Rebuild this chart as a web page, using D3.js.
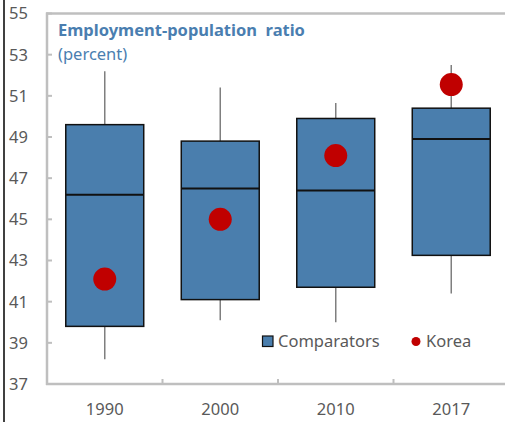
<!DOCTYPE html>
<html><head><meta charset="utf-8">
<script src="https://cdn.jsdelivr.net/npm/d3@7"></script>
<style>body{margin:0;background:#fff}svg{display:block}text{font-family:"Noto Sans","Open Sans",sans-serif}</style>
</head><body>
<svg id="c" width="505" height="422"></svg>
<script>
const categories = ["1990", "2000", "2010", "2017"];
const whiskerLow  = [38.2, 40.1, 40.0, 41.4];
const boxLow      = [39.8, 41.1, 41.7, 43.25];
const medians     = [46.2, 46.5, 46.4, 48.9];
const boxHigh     = [49.6, 48.8, 49.9, 50.4];
const whiskerHigh = [52.2, 51.4, 50.65, 52.5];
const korea       = [42.1, 45.0, 48.1, 51.55];
const yTicks      = [37, 39, 41, 43, 45, 47, 49, 51, 53, 55];

const svg = d3.select("#c");
const x = d3.scaleBand().domain(categories).range([47, 509]).paddingInner(0.325).paddingOuter(0.1625);
const y = d3.scaleLinear().domain([37, 55]).range([384, 13.5]);
const axisCol = "#bfbfbf", txtCol = "#595959";

// left black frame line
svg.append("line").attr("x1", 4).attr("x2", 4).attr("y1", 0).attr("y2", 422).attr("stroke", "#000").attr("stroke-width", 1.5);

// y tick labels
svg.append("g").selectAll("text").data(yTicks).join("text")
  .attr("x", 28).attr("y", d => y(d)).attr("dy", "0.36em").attr("text-anchor", "end")
  .attr("fill", txtCol).attr("font-size", 16.5).text(d => d);
// y ticks (inward)
svg.append("g").selectAll("line").data(yTicks).join("line")
  .attr("x1", 47).attr("x2", 52).attr("y1", d => y(d)).attr("y2", d => y(d))
  .attr("stroke", axisCol).attr("stroke-width", 2);

// axes lines
svg.append("line").attr("x1", 47).attr("x2", 47).attr("y1", y(55) - 1).attr("y2", y(37) + 1).attr("stroke", axisCol).attr("stroke-width", 2.5);
svg.append("line").attr("x1", 46).attr("x2", 505).attr("y1", y(55)).attr("y2", y(55)).attr("stroke", axisCol).attr("stroke-width", 2.5);
svg.append("line").attr("x1", 46).attr("x2", 505).attr("y1", y(37)).attr("y2", y(37)).attr("stroke", axisCol).attr("stroke-width", 2.5);
// x ticks between categories
svg.append("g").selectAll("line").data(categories.slice(1)).join("line")
  .attr("x1", d => x(d) - x.step() * x.paddingInner() / 2).attr("x2", d => x(d) - x.step() * x.paddingInner() / 2)
  .attr("y1", y(37)).attr("y2", y(37) - 5).attr("stroke", axisCol).attr("stroke-width", 2);
// x labels
svg.append("g").selectAll("text").data(categories).join("text")
  .attr("x", d => x(d) + x.bandwidth() / 2).attr("y", 415).attr("text-anchor", "middle")
  .attr("fill", txtCol).attr("font-size", 16.5).text(d => d);

// whiskers, boxes, medians
const cx = i => x(categories[i]) + x.bandwidth() / 2;
const g = svg.append("g");
categories.forEach((c, i) => {
  g.append("line").attr("x1", cx(i)).attr("x2", cx(i)).attr("y1", y(whiskerHigh[i])).attr("y2", y(boxHigh[i]))
    .attr("stroke", "#7f7f7f").attr("stroke-width", 1.5);
  g.append("line").attr("x1", cx(i)).attr("x2", cx(i)).attr("y1", y(boxLow[i])).attr("y2", y(whiskerLow[i]))
    .attr("stroke", "#7f7f7f").attr("stroke-width", 1.5);
  g.append("rect").attr("x", x(c)).attr("width", x.bandwidth())
    .attr("y", y(boxHigh[i])).attr("height", y(boxLow[i]) - y(boxHigh[i]))
    .attr("fill", "#4a7ead").attr("stroke", "#111").attr("stroke-width", 1.5);
  g.append("line").attr("x1", x(c)).attr("x2", x(c) + x.bandwidth()).attr("y1", y(medians[i])).attr("y2", y(medians[i]))
    .attr("stroke", "#111").attr("stroke-width", 2);
});
// Korea dots
svg.append("g").selectAll("circle").data(korea).join("circle")
  .attr("cx", (d, i) => cx(i)).attr("cy", d => y(d)).attr("r", 11.5).attr("fill", "#c00000");

// title
svg.append("text").attr("x", 58).attr("y", 36).attr("fill", "#4a7eb0").attr("font-size", 16.5).attr("font-weight", "bold")
  .style("white-space", "pre").text("Employment-population  ratio");
svg.append("text").attr("x", 58).attr("y", 60).attr("fill", "#4a7eb0").attr("font-size", 16.5).text("(percent)");

// legend
svg.append("rect").attr("x", 262.5).attr("y", 336).attr("width", 10.5).attr("height", 10.5)
  .attr("fill", "#4a7ead").attr("stroke", "#111").attr("stroke-width", 1.2);
svg.append("text").attr("x", 278).attr("y", 347).attr("fill", txtCol).attr("font-size", 16.5).text("Comparators");
svg.append("circle").attr("cx", 416).attr("cy", 341.5).attr("r", 4.5).attr("fill", "#c00000");
svg.append("text").attr("x", 426).attr("y", 347).attr("fill", txtCol).attr("font-size", 16.5).text("Korea");
</script>
</body></html>
